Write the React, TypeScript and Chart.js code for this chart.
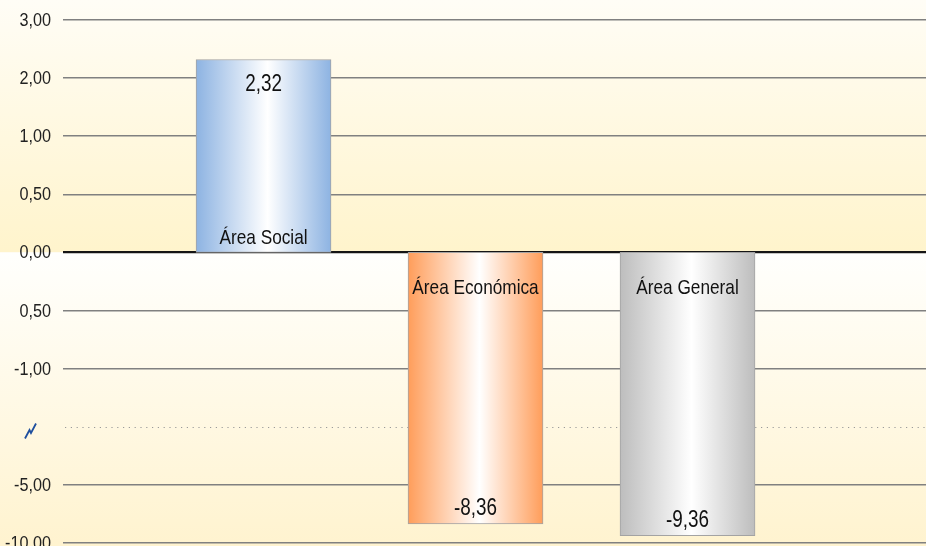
import React, { useEffect, useRef } from "react";
import { Chart, registerables } from "chart.js";
Chart.register(...registerables);

const categories = ["Área Social", "Área Económica", "Área General"];
const values = [2.32, -8.36, -9.36];
const valueLabels = ["2,32", "-8,36", "-9,36"];
// axis ticks, top to bottom (broken axis between -1 and -5)
const tickLabels = ["3,00", "2,00", "1,00", "0,50", "0,00", "0,50", "-1,00", "", "-5,00", "-10,00"];
const tickValues = [3, 2, 1, 0.5, 0, -0.5, -1, -3, -5, -10];
const barEdgeColors = ["#8db3e2", "#ff9d5a", "#bdbdbd"];
const BREAK_INDEX = 7;

const N = tickValues.length - 1; // top position index
const toAxis = (v: number) => {
  for (let i = 0; i < tickValues.length - 1; i++) {
    const a = tickValues[i], b = tickValues[i + 1];
    if (v <= a && v >= b) return N - i - (a - v) / (a - b);
  }
  return v > tickValues[0] ? N : 0;
};
const ZERO = toAxis(0);
const BAR_W = 135;
const FONT = "'Liberation Sans', Arial, sans-serif";

// condensed text (the original uses a narrow face)
const drawText = (ctx: any, text: string, x: number, y: number, size: number, sx: number, align: string, baseline: string) => {
  ctx.save();
  ctx.translate(x, y);
  ctx.scale(sx, 1);
  ctx.font = `${size}px ${FONT}`;
  ctx.textAlign = align;
  ctx.textBaseline = baseline;
  ctx.fillText(text, 0, 0);
  ctx.restore();
};

export default function App() {
  const ref = useRef<HTMLCanvasElement>(null);
  useEffect(() => {
    const canvas = ref.current!;
    const bgPlugin = {
      id: "bg",
      beforeDraw(chart: any) {
        const { ctx, width, height } = chart;
        const y0 = chart.scales.y.getPixelForValue(ZERO);
        if (!isFinite(y0)) return;
        ctx.save();
        let g = ctx.createLinearGradient(0, 0, 0, y0);
        g.addColorStop(0, "#fffdf6");
        g.addColorStop(1, "#fff4cc");
        ctx.fillStyle = g;
        ctx.fillRect(0, 0, width, y0);
        g = ctx.createLinearGradient(0, y0, 0, height);
        g.addColorStop(0, "#fffffd");
        g.addColorStop(1, "#fff3cf");
        ctx.fillStyle = g;
        ctx.fillRect(0, y0, width, height - y0);
        ctx.restore();
      },
      beforeDatasetsDraw(chart: any) {
        const { ctx, chartArea } = chart;
        const ys = chart.scales.y;
        const yb = Math.round(ys.getPixelForValue(N - BREAK_INDEX)) + 0.5;
        ctx.save();
        ctx.strokeStyle = "#9a9a9a";
        ctx.lineWidth = 1.2;
        ctx.setLineDash([1.2, 4.6]);
        ctx.beginPath();
        ctx.moveTo(chartArea.left + 2, yb);
        ctx.lineTo(chartArea.right, yb);
        ctx.stroke();
        ctx.setLineDash([]);
        // axis-break symbol
        const cx = 30, cy = yb + 3;
        ctx.strokeStyle = "#1f4f9e";
        ctx.lineWidth = 1.8;
        ctx.lineJoin = "miter";
        ctx.beginPath();
        ctx.moveTo(cx - 5, cy + 8);
        ctx.lineTo(cx - 0.5, cy - 0.5);
        ctx.lineTo(cx + 1, cy + 2.5);
        ctx.lineTo(cx + 6, cy - 7);
        ctx.stroke();
        ctx.restore();
        // tick labels
        ctx.save();
        ctx.fillStyle = "#222";
        ys.ticks.forEach((t: any) => {
          const lbl = tickLabels[N - Number(t.value)];
          if (!lbl) return;
          drawText(ctx, lbl, 51, ys.getPixelForValue(t.value) + 1, 18, 0.9, "right", "middle");
        });
        ctx.restore();
      },
      afterDatasetsDraw(chart: any) {
        const { ctx } = chart;
        const meta = chart.getDatasetMeta(0);
        const ys = chart.scales.y;
        const y0 = ys.getPixelForValue(ZERO);
        ctx.save();
        ctx.fillStyle = "#111";
        meta.data.forEach((el: any, i: number) => {
          const x = el.x;
          const end = ys.getPixelForValue(toAxis(values[i]));
          if (values[i] >= 0) {
            drawText(ctx, valueLabels[i], x, end + 31, 23, 0.82, "center", "alphabetic");
            drawText(ctx, categories[i], x, y0 - 8, 21, 0.82, "center", "alphabetic");
          } else {
            drawText(ctx, valueLabels[i], x, end - 9, 23, 0.82, "center", "alphabetic");
            drawText(ctx, categories[i], x, y0 + 42, 21, 0.82, "center", "alphabetic");
          }
        });
        ctx.restore();
      },
    };

    const chart = new Chart(canvas, {
      type: "bar",
      data: {
        datasets: [
          {
            data: values.map((v, i) => ({ x: i, y: [ZERO, toAxis(v)] })) as any,
            barThickness: BAR_W,
            borderWidth: 1,
            borderColor: "#a3a3a3",
            borderSkipped: false,
            backgroundColor: (c: any) => {
              const col = barEdgeColors[c.dataIndex ?? 0] || barEdgeColors[0];
              if (c.type !== "data") return col;
              const xs = c.chart.scales.x;
              if (!xs) return col;
              const xc = xs.getPixelForValue(c.dataIndex);
              if (!isFinite(xc)) return col;
              const g = c.chart.ctx.createLinearGradient(xc - BAR_W / 2, 0, xc + BAR_W / 2, 0);
              g.addColorStop(0, col);
              g.addColorStop(0.53, "#ffffff");
              g.addColorStop(1, col);
              return g;
            },
          },
        ],
      },
      options: {
        animation: false,
        responsive: false,
        events: [],
        layout: { padding: { top: 20, bottom: 3, left: 0, right: 0 } },
        plugins: { legend: { display: false }, tooltip: { enabled: false } },
        scales: {
          x: {
            type: "linear",
            display: false,
            offset: false,
            bounds: "data",
            min: -0.946,
            max: 3.125,
            grid: { offset: false },
          },
          y: {
            type: "linear",
            min: 0,
            max: N,
            border: { display: false },
            afterFit: (s: any) => {
              s.width = 63;
              s.paddingTop = 0;
              s.paddingBottom = 0;
            },
            ticks: {
              stepSize: 1,
              display: false,
              callback: (v: any) => tickLabels[N - Number(v)] ?? "",
            },
            grid: {
              drawTicks: false,
              color: (c: any) =>
                c.tick && c.tick.value === ZERO
                  ? "#151515"
                  : c.tick && c.tick.value === N - BREAK_INDEX
                  ? "rgba(0,0,0,0)"
                  : "#808080",
              lineWidth: (c: any) => (c.tick && c.tick.value === ZERO ? 2.2 : 1.5),
            },
          },
        },
      } as any,
      plugins: [bgPlugin],
    });
    return () => chart.destroy();
  }, []);

  return (
    <div style={{ position: "fixed", left: 0, top: 0, width: 926, height: 546 }}>
      <canvas ref={ref} width={926} height={546} style={{ display: "block", width: 926, height: 546 }} />
    </div>
  );
}
